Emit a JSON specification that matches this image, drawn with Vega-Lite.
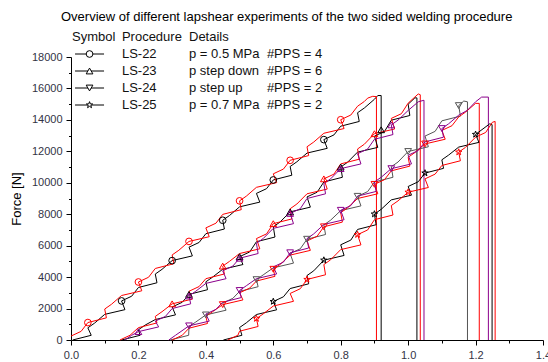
{
  "$schema": "https://vega.github.io/schema/vega-lite/v6.json",
  "width": 472,
  "height": 283,
  "autosize": {"type": "none"},
  "padding": {"left": 71, "top": 57, "right": 5, "bottom": 22},
  "background": "white",
  "config": {"view": {"stroke": null}, "font": "Liberation Sans", "axis": {"labelOverlap": false, "grid": false}},
  "title": {"text": "Overview of different lapshear experiments of the two sided welding procedure", "anchor": "start", "frame": "group", "dx": -10, "offset": 7, "fontSize": 13, "fontWeight": "normal", "color": "#000000", "font": "Liberation Sans"},
  "datasets": {
    "curves": [
      {"s": "LS-22 a", "x": [0.005,0.06,0.05,0.07,0.1,0.16,0.15,0.18,0.2,0.255,0.25,0.27,0.3,0.36,0.35,0.38,0.4,0.455,0.45,0.47,0.5,0.56,0.55,0.58,0.6,0.655,0.65,0.67,0.7,0.76,0.75,0.78,0.8,0.855,0.85,0.87,0.9,0.91,0.92,0.92], "f": [0,300,775,1075,1630,1930,2485,2785,3340,3640,4195,4495,5050,5350,5905,6205,6760,7060,7615,7915,8470,8770,9325,9625,10180,10480,11035,11335,11890,12190,12745,13045,13600,13900,14455,14755,15310,15550,15550,0]},
      {"s": "LS-22 b", "x": [0,0.03,0.05,0.105,0.1,0.12,0.15,0.21,0.2,0.23,0.25,0.305,0.3,0.32,0.35,0.41,0.4,0.43,0.45,0.505,0.5,0.52,0.55,0.61,0.6,0.63,0.65,0.705,0.7,0.72,0.75,0.81,0.8,0.83,0.85,0.87,0.88,0.895,0.906,0.906], "f": [250,550,1110,1410,1970,2270,2830,3130,3690,3990,4550,4850,5410,5710,6270,6570,7130,7430,7990,8290,8850,9150,9710,10010,10570,10870,11430,11730,12290,12590,13150,13450,14010,14310,14870,15170,15386,15500,15480,0]},
      {"s": "LS-23 a", "x": [0.15,0.205,0.2,0.22,0.25,0.31,0.3,0.33,0.35,0.405,0.4,0.42,0.45,0.51,0.5,0.53,0.55,0.605,0.6,0.62,0.65,0.71,0.7,0.73,0.75,0.805,0.8,0.82,0.85,0.91,0.9,0.93,0.95,1.005,1.0,1.02,1.026,1.026], "f": [0,300,650,950,1300,1600,2100,2400,2900,3200,3700,4000,4500,4800,5300,5600,6250,6550,7200,7500,8150,8450,9100,9400,10050,10350,11000,11300,11950,12250,12965,13265,13980,14280,14995,15400,15400,0]},
      {"s": "LS-23 b", "x": [0.145,0.175,0.2,0.255,0.25,0.27,0.3,0.36,0.35,0.38,0.4,0.455,0.45,0.47,0.5,0.56,0.55,0.58,0.6,0.655,0.65,0.67,0.7,0.76,0.75,0.78,0.8,0.855,0.85,0.87,0.9,0.96,0.95,0.98,1.0,1.03,1.036,1.036], "f": [0,300,786,1086,1500,1800,2300,2600,3100,3400,3900,4200,4700,5000,5500,5800,6450,6750,7400,7700,8350,8650,9300,9600,10250,10550,11200,11500,12150,12450,13122,13422,14094,14394,15067,15650,15600,0]},
      {"s": "LS-23 c", "x": [0.16,0.18,0.2,0.26,0.25,0.28,0.3,0.355,0.35,0.37,0.4,0.46,0.45,0.48,0.5,0.555,0.55,0.57,0.6,0.66,0.65,0.68,0.7,0.755,0.75,0.77,0.8,0.86,0.85,0.88,0.9,0.955,0.95,0.97,1.0,1.03,1.047,1.047], "f": [0,300,533,833,1200,1500,2000,2300,2800,3100,3600,3900,4400,4700,5200,5500,6150,6450,7100,7400,8050,8350,9000,9300,9950,10250,10900,11200,11850,12150,12767,13067,13683,13983,14600,15150,15250,0]},
      {"s": "LS-24 a", "x": [0.294,0.349,0.35,0.37,0.4,0.46,0.45,0.48,0.5,0.555,0.55,0.57,0.6,0.66,0.65,0.68,0.7,0.755,0.75,0.77,0.8,0.86,0.85,0.88,0.9,0.955,0.95,0.97,1.0,1.06,1.05,1.08,1.1,1.155,1.15,1.165,1.176,1.176], "f": [0,300,843,1143,1596,1896,2349,2649,3090,3390,3840,4140,4590,4890,5500,5800,6410,6710,7320,7620,8230,8530,9140,9440,10050,10350,11020,11320,11990,12290,12970,13270,13940,14240,14910,15200,15150,0]},
      {"s": "LS-24 b", "x": [0.3,0.33,0.35,0.405,0.4,0.42,0.45,0.51,0.5,0.53,0.55,0.605,0.6,0.62,0.65,0.71,0.7,0.73,0.75,0.805,0.8,0.82,0.85,0.91,0.9,0.93,0.95,1.005,1.0,1.02,1.05,1.11,1.1,1.13,1.15,1.17,1.2,1.211,1.211], "f": [0,300,750,1050,1500,1800,2250,2550,3000,3300,3750,4050,4500,4800,5400,5700,6300,6600,7200,7500,8100,8400,9000,9300,9900,10200,10760,11060,11620,11920,12470,12770,13330,13630,14190,14490,15050,15050,0]},
      {"s": "LS-24 c", "x": [0.29,0.31,0.35,0.41,0.4,0.43,0.45,0.505,0.5,0.52,0.55,0.61,0.6,0.63,0.65,0.705,0.7,0.72,0.75,0.81,0.8,0.83,0.85,0.905,0.9,0.92,0.95,1.01,1.0,1.03,1.05,1.105,1.1,1.12,1.15,1.175,1.2,1.218,1.238,1.238], "f": [0,300,900,1200,1650,1950,2400,2700,3150,3450,3900,4200,4650,4950,5550,5850,6450,6750,7350,7650,8250,8550,9150,9450,10050,10350,10900,11200,11750,12050,12600,12900,13450,13750,14300,14600,15150,15450,15450,0]},
      {"s": "LS-25 a", "x": [0.452,0.507,0.5,0.52,0.55,0.61,0.6,0.63,0.65,0.705,0.7,0.72,0.75,0.81,0.8,0.83,0.85,0.905,0.9,0.92,0.95,1.01,1.0,1.03,1.05,1.105,1.1,1.12,1.15,1.21,1.2,1.242,1.249,1.249], "f": [0,300,793,1093,1620,1920,2446,2746,3273,3573,4100,4400,5077,5377,6055,6355,7032,7332,8010,8310,8912,9212,9765,10065,10618,10918,11460,11760,12270,12570,13075,13750,13700,0]},
      {"s": "LS-25 b", "x": [0.465,0.495,0.5,0.555,0.55,0.57,0.6,0.66,0.65,0.68,0.7,0.755,0.75,0.77,0.8,0.86,0.85,0.88,0.9,0.955,0.95,0.97,1.0,1.06,1.05,1.08,1.1,1.155,1.15,1.17,1.2,1.23,1.25,1.258,1.258], "f": [0,300,560,860,1360,1660,2160,2460,2960,3260,3850,4150,4800,5100,5750,6050,6700,7000,7650,7950,8550,8850,9400,9700,10250,10550,11100,11400,11950,12250,12900,13200,13850,13900,0]}
    ],
    "markers": [
      {"s": "LS-22 a", "p": "LS-22", "x": [0.15,0.3,0.45,0.6,0.75], "f": [2485,5050,7615,10180,12745]},
      {"s": "LS-22 b", "p": "LS-22", "x": [0.05,0.2,0.35,0.5,0.65,0.8], "f": [1110,3690,6270,8850,11430,14010]},
      {"s": "LS-23 a", "p": "LS-23", "x": [0.35,0.5,0.65,0.8,0.92], "f": [2900,5300,8150,11000,13370]},
      {"s": "LS-23 b", "p": "LS-23", "x": [0.3,0.45,0.6,0.75,0.9], "f": [2300,4700,7400,10250,13122]},
      {"s": "LS-23 c", "p": "LS-23", "x": [0.2,0.35,0.5,0.65,0.8,0.95], "f": [533,2800,5200,8050,10900,13683]},
      {"s": "LS-24 a", "p": "LS-24", "x": [0.4,0.55,0.7,0.85,1.0,1.15], "f": [1596,3840,6410,9140,11990,14910]},
      {"s": "LS-24 b", "p": "LS-24", "x": [0.45,0.6,0.75,0.9,1.05], "f": [2250,4500,7200,9900,12470]},
      {"s": "LS-24 c", "p": "LS-24", "x": [0.35,0.5,0.65,0.8,0.95,1.1], "f": [900,3150,5550,8250,10900,13450]},
      {"s": "LS-25 a", "p": "LS-25", "x": [0.6,0.75,0.9,1.05,1.2], "f": [2446,5077,8010,10618,13075]},
      {"s": "LS-25 b", "p": "LS-25", "x": [0.55,0.7,0.85,1.0,1.15], "f": [1360,3850,6700,9400,11950]}
    ],
    "legend": [
      {"row": "hdr", "c1": "Symbol", "c2": "Procedure", "c3": "Details", "c4": ""},
      {"row": "LS-22", "c1": "", "c2": "LS-22", "c3": "p = 0.5 MPa", "c4": "#PPS = 4"},
      {"row": "LS-23", "c1": "", "c2": "LS-23", "c3": "p step down", "c4": "#PPS = 6"},
      {"row": "LS-24", "c1": "", "c2": "LS-24", "c3": "p step up", "c4": "#PPS = 2"},
      {"row": "LS-25", "c1": "", "c2": "LS-25", "c3": "p = 0.7 MPa", "c4": "#PPS = 2"}
    ]
  },
  "layer": [
    {
      "layer": [
        {
          "data": {"name": "curves"},
          "transform": [{"flatten": ["x", "f"]}],
          "mark": {"type": "line", "strokeWidth": 1},
          "encoding": {
            "x": {"field": "x", "type": "quantitative", "scale": {"domain": [0, 1.4], "nice": false, "zero": false},
              "axis": {"title": null, "orient": "bottom", "values": [0,0.2,0.4,0.6,0.8,1.0,1.2,1.4], "format": ".1f", "tickSize": 5,
                "domainColor": "#000000", "tickColor": "#000000", "labelColor": "#333344", "labelFontSize": 11, "labelPadding": 4, "labelOverlap": false, "labelFlush": false}},
            "y": {"field": "f", "type": "quantitative", "scale": {"domain": [0, 18000], "nice": false},
              "axis": {"title": "Force [N]", "orient": "left", "values": [0,2000,4000,6000,8000,10000,12000,14000,16000,18000], "format": "d", "tickSize": 5,
                "domainColor": "#000000", "tickColor": "#000000", "labelColor": "#333344", "labelFontSize": 11, "labelPadding": 4, "labelOverlap": false, "labelFlush": false,
                "titleFontSize": 13, "titleFontWeight": "normal", "titleColor": "#000000", "titlePadding": 8}},
            "color": {"field": "s", "type": "nominal", "legend": null,
              "scale": {"domain": ["LS-22 a","LS-22 b","LS-23 a","LS-23 b","LS-23 c","LS-24 a","LS-24 b","LS-24 c","LS-25 a","LS-25 b"],
                "range": ["#000000","#ff0000","#000000","#ff0000","#8b008b","#555555","#ff0000","#8b008b","#000000","#ff0000"]}},
            "order": {"value": null}
          }
        },
        {
          "data": {"name": "markers"},
          "transform": [{"flatten": ["x", "f"]}],
          "mark": {"type": "point", "filled": false, "size": 45, "strokeWidth": 1, "opacity": 1},
          "encoding": {
            "x": {"field": "x", "type": "quantitative", "axis": null},
            "y": {"field": "f", "type": "quantitative", "axis": null},
            "color": {"field": "s", "type": "nominal", "legend": null},
            "shape": {"field": "p", "type": "nominal", "legend": null,
              "scale": {"domain": ["LS-22","LS-23","LS-24","LS-25"], "range": ["circle","triangle-up","triangle-down","M0,-1L0.24,-0.33L0.95,-0.31L0.38,0.12L0.59,0.81L0,0.4L-0.59,0.81L-0.38,0.12L-0.95,-0.31L-0.24,-0.33Z"]}}
          }
        },
        {
          "data": {"name": "markers"},
          "transform": [{"flatten": ["x", "f"]}],
          "mark": {"type": "point", "opacity": 0, "size": 1},
          "encoding": {
            "x": {"field": "x", "type": "quantitative",
              "axis": {"title": null, "orient": "bottom", "values": [0.1,0.3,0.5,0.7,0.9,1.1,1.3], "labels": false, "domain": false, "tickSize": 3, "tickColor": "#000000"}},
            "y": {"field": "f", "type": "quantitative",
              "axis": {"title": null, "orient": "left", "values": [1000,3000,5000,7000,9000,11000,13000,15000,17000], "labels": false, "domain": false, "tickSize": 2.5, "tickColor": "#000000"}}
          }
        }
      ],
      "resolve": {"axis": {"x": "independent", "y": "independent"}}
    },
    {
      "data": {"name": "legend"},
      "encoding": {
        "y": {"field": "row", "type": "ordinal", "axis": null,
          "scale": {"type": "point", "domain": ["hdr","LS-22","LS-23","LS-24","LS-25"], "range": [-20, 48], "padding": 0}}
      },
      "layer": [
        {
          "transform": [{"filter": "datum.row != 'hdr'"}],
          "mark": {"type": "rule", "color": "#000000", "strokeWidth": 1},
          "encoding": {"x": {"datum": 0.012, "axis": null}, "x2": {"datum": 0.098}}
        },
        {
          "transform": [{"filter": "datum.row != 'hdr'"}],
          "mark": {"type": "point", "filled": true, "fill": "#ffffff", "stroke": "#000000", "size": 45, "strokeWidth": 1, "opacity": 1},
          "encoding": {"x": {"datum": 0.055, "axis": null},
            "shape": {"field": "row", "type": "nominal", "legend": null}}
        },
        {
          "mark": {"type": "text", "align": "left", "baseline": "middle", "fontSize": 13, "color": "#111111", "font": "Liberation Sans"},
          "encoding": {"x": {"datum": 0.003, "axis": null}, "text": {"field": "c1"}}
        },
        {
          "mark": {"type": "text", "align": "left", "baseline": "middle", "fontSize": 13, "color": "#111111", "font": "Liberation Sans"},
          "encoding": {"x": {"datum": 0.151, "axis": null}, "text": {"field": "c2"}}
        },
        {
          "mark": {"type": "text", "align": "left", "baseline": "middle", "fontSize": 13, "color": "#111111", "font": "Liberation Sans"},
          "encoding": {"x": {"datum": 0.35, "axis": null}, "text": {"field": "c3"}}
        },
        {
          "mark": {"type": "text", "align": "left", "baseline": "middle", "fontSize": 13, "color": "#111111", "font": "Liberation Sans"},
          "encoding": {"x": {"datum": 0.581, "axis": null}, "text": {"field": "c4"}}
        }
      ]
    }
  ],
  "resolve": {"scale": {"y": "independent"}}
}
